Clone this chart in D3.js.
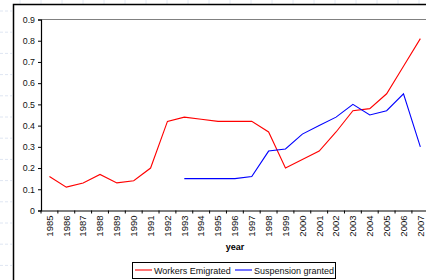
<!DOCTYPE html>
<html>
<head>
<meta charset="utf-8">
<script src="https://cdn.jsdelivr.net/npm/d3@7"></script>
<style>
  body { margin: 0; background: #fff; }
  svg { display: block; font-family: "Liberation Sans", Arial, sans-serif; }
</style>
</head>
<body>
<div id="chart"></div>
<script>
var years = ['1985', '1986', '1987', '1988', '1989', '1990', '1991', '1992', '1993', '1994', '1995', '1996',
    '1997', '1998', '1999', '2000', '2001', '2002', '2003', '2004', '2005', '2006', '2007'];
var emigrated = [0.16, 0.11, 0.13, 0.17, 0.13, 0.14, 0.20, 0.42, 0.44, 0.43, 0.42, 0.42,
    0.42, 0.37, 0.20, 0.24, 0.28, 0.37, 0.47, 0.48, 0.55, 0.68, 0.81];
var suspension = [null, null, null, null, null, null, null, null, 0.15, 0.15, 0.15, 0.15,
    0.16, 0.28, 0.29, 0.36, 0.40, 0.44, 0.50, 0.45, 0.47, 0.55, 0.30];
var yTicks = [0, 0.1, 0.2, 0.3, 0.4, 0.5, 0.6, 0.7, 0.8, 0.9];
var seriesNames = ['Workers Emigrated', 'Suspension granted'];
var seriesColors = ['#ff0000', '#0000ff'];

var width = 426, height = 280;
var plotLeft = 41, plotTop = 19.5, plotBottom = 210.5;

var svg = d3.select('#chart').append('svg')
    .attr('width', width)
    .attr('height', height);

// faint spreadsheet grid behind the chart object
var gridY = d3.range(11, 280, 21.2);
svg.selectAll('.gh').data(gridY).enter().append('line')
    .attr('x1', 0).attr('x2', 12)
    .attr('y1', function (d) { return d; }).attr('y2', function (d) { return d; })
    .attr('stroke', '#dfe6f2').attr('stroke-dasharray', '3,2');
var gridX = d3.range(20, 426, 21);
svg.selectAll('.gv').data(gridX).enter().append('line')
    .attr('x1', function (d) { return d; }).attr('x2', function (d) { return d; })
    .attr('y1', 0).attr('y2', 4)
    .attr('stroke', '#e4eaf4');

// chart object frame
svg.append('path')
    .attr('d', 'M13.5,280 V4.5 H426')
    .attr('fill', 'none')
    .attr('stroke', '#000')
    .attr('stroke-width', 1.5);

var x = d3.scaleBand().domain(years).range([plotLeft, plotLeft + 23 * 16.86]);
var y = d3.scaleLinear().domain([0, 0.9]).range([plotBottom, plotTop]);

// top border of plot area
svg.append('line')
    .attr('x1', plotLeft).attr('x2', width)
    .attr('y1', plotTop).attr('y2', plotTop)
    .attr('stroke', '#808080').attr('stroke-width', 1.2);

var yAxis = svg.append('g')
    .attr('transform', 'translate(' + plotLeft + ',0)')
    .call(d3.axisLeft(y).tickValues(yTicks).tickSize(3).tickPadding(3)
        .tickFormat(function (d) { return d === 0 ? '0' : d3.format('.1f')(d); }));
yAxis.select('.domain').attr('stroke-width', 1.2);
yAxis.selectAll('text').attr('font-size', 8.8).attr('fill', '#111')
    .attr('font-family', '"Liberation Sans", Arial, sans-serif');

var xAxis = svg.append('g')
    .attr('transform', 'translate(0,' + plotBottom + ')')
    .call(d3.axisBottom(x).tickSize(0).tickSizeOuter(0));
xAxis.select('.domain').attr('stroke-width', 1.2);
xAxis.selectAll('.tick line').remove();
xAxis.selectAll('text')
    .attr('font-size', 9.5)
    .attr('fill', '#111')
    .attr('font-family', '"Liberation Sans", Arial, sans-serif')
    .attr('transform', 'rotate(-90)')
    .attr('text-anchor', 'end')
    .attr('x', -5)
    .attr('y', 0)
    .attr('dy', '0.35em');

// tick marks between categories
svg.selectAll('.xt').data(years).enter().append('line')
    .attr('x1', function (d) { return x(d); })
    .attr('x2', function (d) { return x(d); })
    .attr('y1', plotBottom).attr('y2', plotBottom + 3)
    .attr('stroke', '#000');

svg.append('text')
    .attr('x', 235).attr('y', 250)
    .attr('text-anchor', 'middle')
    .attr('font-size', 9)
    .attr('font-weight', 'bold')
    .text('year');

var line = d3.line()
    .defined(function (d) { return d != null; })
    .x(function (d, i) { return x(years[i]) + x.bandwidth() / 2; })
    .y(function (d) { return y(d); });

[emigrated, suspension].forEach(function (s, i) {
    svg.append('path')
        .datum(s)
        .attr('d', line)
        .attr('fill', 'none')
        .attr('stroke', seriesColors[i])
        .attr('stroke-width', 1.1);
});

// legend
var legend = svg.append('g');
legend.append('rect')
    .attr('x', 132.5).attr('y', 262.5)
    .attr('width', 203).attr('height', 16)
    .attr('fill', '#fff').attr('stroke', '#000');
var legX = [135, 235];
seriesNames.forEach(function (name, i) {
    legend.append('line')
        .attr('x1', legX[i]).attr('x2', legX[i] + 17)
        .attr('y1', 270).attr('y2', 270)
        .attr('stroke', seriesColors[i]).attr('stroke-width', 1.1);
    legend.append('text')
        .attr('x', legX[i] + 19).attr('y', 273.5)
        .attr('font-size', 9)
        .attr('fill', '#111')
        .text(name);
});
</script>
</body>
</html>
